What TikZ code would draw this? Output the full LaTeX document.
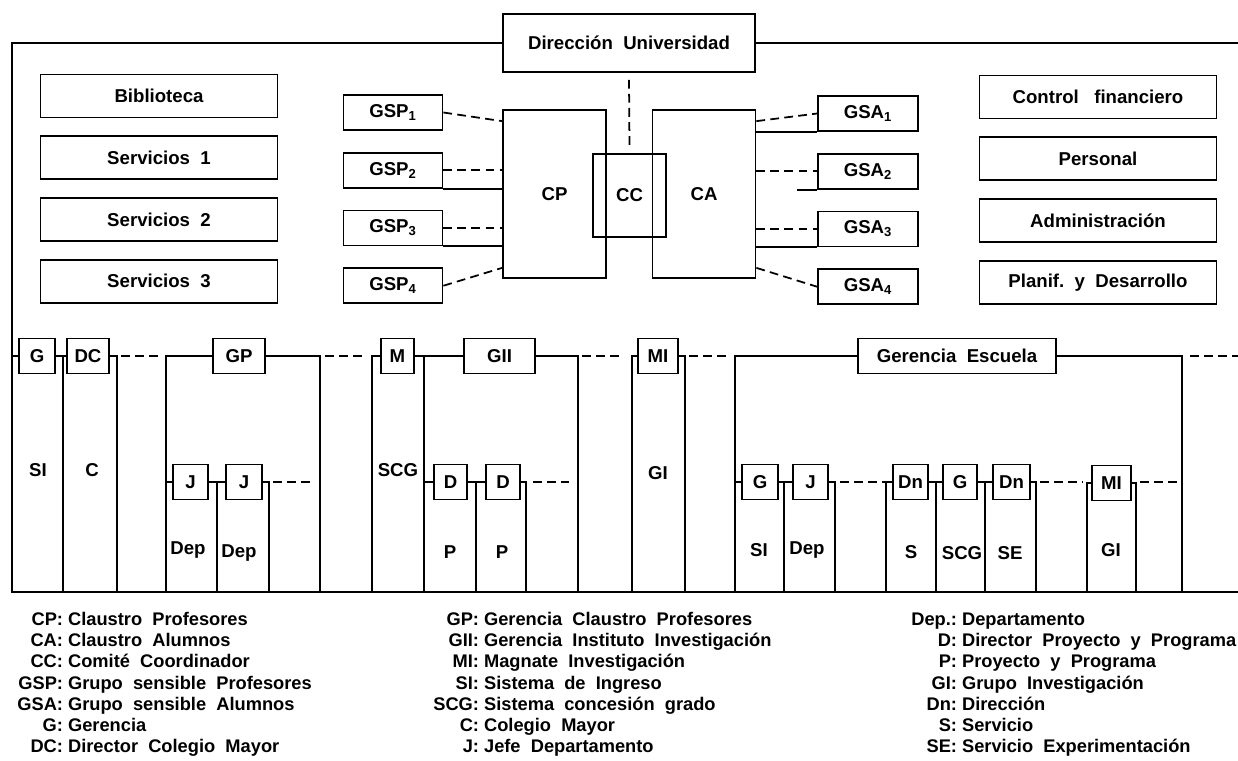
\documentclass[tikz,border=0pt]{standalone}
\usepackage{fontspec}
\setmainfont{Liberation Sans}
\usetikzlibrary{positioning}
\newcommand{\boxfont}{\fontsize{10.6pt}{12.7pt}\selectfont\bfseries}
\newcommand{\keyfont}{\fontsize{10.4pt}{12.1pt}\selectfont\bfseries}
\tikzset{
	unitbox/.style={rectangle, draw, line width=1pt, fill=white, inner sep=1pt, font=\boxfont},
	sidebox/.style={unitbox, minimum width=4.74cm, minimum height=0.86cm},
	gsbox/.style={unitbox, minimum width=1.98cm, minimum height=0.7cm},
	council/.style={rectangle, draw, line width=1pt, minimum width=2.06cm, minimum height=3.36cm, font=\boxfont},
	headbox/.style={unitbox, minimum width=0.7cm, minimum height=0.7cm},
	lane/.style={font=\boxfont, inner sep=0pt},
	legend/.style={font=\keyfont, inner sep=0pt, anchor=north west},
	link/.style={line width=1pt},
	dashlink/.style={line width=1pt, dash pattern=on 5pt off 3pt},
}
\begin{document}
\begin{tikzpicture}[x=0.02cm, y=-0.02cm]
		\useasboundingbox (0,0) rectangle (1238,761);
		% top: direction and councils
		\node[unitbox, minimum width=5.04cm, minimum height=1.16cm] (dir) at (629,43) {Dirección\ \ Universidad};
		\node[council] (cp) at (554.5,194) {CP};
		\node[council] (ca) at (704,194) {CA};
		\node[rectangle, draw, line width=1pt, minimum width=1.46cm, minimum height=1.66cm, font=\boxfont] (cc) at (629.5,195.5) {CC};
		\draw[link] (dir.west) -| (12,592) -- (1238,592);
		\draw[link] (dir.east) -- (1238,43);
		\draw[dashlink] ([yshift=-0.14cm]dir.south) -- ([yshift=0.12cm]cc.north);
		% service columns
		\node[sidebox] (bib) at (159,96) {Biblioteca};
		\node[sidebox, below=0.34cm of bib] (serv1) {Servicios\ \ 1};
		\node[sidebox, below=0.34cm of serv1] (serv2) {Servicios\ \ 2};
		\node[sidebox, below=0.34cm of serv2] (serv3) {Servicios\ \ 3};
		\node[sidebox] (ctrl) at (1098,97) {Control\ \ \ financiero};
		\node[sidebox, below=0.34cm of ctrl] (pers) {Personal};
		\node[sidebox, below=0.34cm of pers] (admin) {Administración};
		\node[sidebox, below=0.34cm of admin] (plan) {Planif.\ \ y\ \ Desarrollo};
		% sensitive groups
		\node[gsbox] (gsp1) at (393,112.5) {GSP\textsubscript{1}};
		\node[gsbox, below=0.42cm of gsp1] (gsp2) {GSP\textsubscript{2}};
		\node[gsbox, below=0.42cm of gsp2] (gsp3) {GSP\textsubscript{3}};
		\node[gsbox, below=0.42cm of gsp3] (gsp4) {GSP\textsubscript{4}};
		\node[gsbox, minimum width=2.0cm] (gsa1) at (868,113.5) {GSA\textsubscript{1}};
		\node[gsbox, minimum width=2.0cm, below=0.42cm of gsa1] (gsa2) {GSA\textsubscript{2}};
		\node[gsbox, minimum width=2.0cm, below=0.42cm of gsa2] (gsa3) {GSA\textsubscript{3}};
		\node[gsbox, minimum width=2.0cm, below=0.42cm of gsa3] (gsa4) {GSA\textsubscript{4}};
		\draw[dashlink] (gsp1.east) -- ([yshift=-0.24cm]cp.north west);
		\draw[dashlink] (gsp2.east) -- (gsp2.east -| cp.west);
		\draw[link] (gsp2.south east) -- (gsp2.south east -| cp.west);
		\draw[dashlink] (gsp3.east) -- (gsp3.east -| cp.west);
		\draw[link] (gsp3.south east) -- (gsp3.south east -| cp.west);
		\draw[dashlink] (gsp4.east) -- ([yshift=0.22cm]cp.south west);
		\draw[dashlink] ([yshift=-0.24cm]ca.north east) -- (gsa1.west);
		\draw[link] (gsa1.south west) -- (gsa1.south west -| ca.east);
		\draw[dashlink] (gsa2.west -| ca.east) -- (gsa2.west);
		\draw[link] (gsa2.south west) -- ++(-20,0);
		\draw[dashlink] (gsa3.west -| ca.east) -- (gsa3.west);
		\draw[link] (gsa3.south west) -- (gsa3.south west -| ca.east);
		\draw[dashlink] ([yshift=0.22cm]ca.south east) -- (gsa4.west);
		% units, first level
		\node[headbox, minimum width=0.72cm] (g) at (37,356) {G};
		\node[headbox, minimum width=0.84cm] (dc) at (88,356) {DC};
		\node[headbox, minimum width=1.04cm] (gp) at (239,356) {GP};
		\node[headbox, minimum width=0.66cm] (m) at (397.5,356) {M};
		\node[headbox, minimum width=1.42cm] (gii) at (499.5,356) {GII};
		\node[headbox, minimum width=0.8cm] (mi) at (658,356) {MI};
		\node[headbox, minimum width=3.96cm] (ge) at (957,356) {Gerencia\ \ Escuela};
		\draw[link] (g.west) -- ++(-6,0);
		\draw[link] (g.east) -| (63,592);
		\draw[link] (dc.west) -- (g.east);
		\draw[link] (dc.east) -| (117,592);
		\draw[link] (gp.west) -| (166,592);
		\draw[link] (gp.east) -| (320,592);
		\draw[link] (m.west) -| (372,592);
		\draw[link] (m.east) -| (424,592);
		\draw[link] (gii.west) -- (m.east);
		\draw[link] (gii.east) -| (578,592);
		\draw[link] (mi.west) -| (632,592);
		\draw[link] (mi.east) -| (685,592);
		\draw[link] (ge.west) -| (735,592);
		\draw[link] (ge.east) -| (1182,592);
		% units, second level
		\node[headbox] (j1) at (190.5,482) {J};
		\node[headbox, minimum width=0.72cm] (j2) at (244,482) {J};
		\node[headbox, minimum width=0.66cm] (d1) at (450.5,482) {D};
		\node[headbox, minimum width=0.68cm] (d2) at (503,482) {D};
		\node[headbox, minimum width=0.72cm] (sg) at (760,482) {G};
		\node[headbox] (sj) at (810.5,482) {J};
		\node[headbox] (dn1) at (910.5,482) {Dn};
		\node[headbox, minimum width=0.68cm] (sg2) at (960,482) {G};
		\node[headbox, minimum width=0.74cm] (dn2) at (1011.5,482) {Dn};
		\node[headbox, minimum width=0.78cm] (mi2) at (1111.5,483) {MI};
		\draw[link] (j1.west) -- ++(-7,0);
		\draw[link] (j1.east) -| (217,592);
		\draw[link] (j2.west) -- (j1.east);
		\draw[link] (j2.east) -| (269,592);
		\draw[link] (d1.west) -- ++(-10,0);
		\draw[link] (d1.east) -| (476,592);
		\draw[link] (d2.west) -- (d1.east);
		\draw[link] (d2.east) -| (526,592);
		\draw[link] (sg.west) -- ++(-7,0);
		\draw[link] (sg.east) -| (784,592);
		\draw[link] (sj.west) -- (sg.east);
		\draw[link] (sj.east) -| (835,592);
		\draw[link] (dn1.west) -| (886,592);
		\draw[link] (dn1.east) -| (936,592);
		\draw[link] (sg2.west) -- (dn1.east);
		\draw[link] (sg2.east) -| (985,592);
		\draw[link] (dn2.west) -- (sg2.east);
		\draw[link] (dn2.east) -| (1036,592);
		\draw[link] (mi2.west) -| (1087,592);
		\draw[link] (mi2.east) -| (1136,592);
		% continuation dashes
		\foreach \a/\b/\y in {121/160/356, 325/364/356, 582/624/356, 689/731/356, 1190/1238/356,
			273/313/482, 533/569/482, 840/885/482, 1040/1083/482, 1140/1177/482}
			\draw[dashlink] (\a,\y) -- (\b,\y);
		% lane labels
		\node[lane] (si1) at (38,470) {SI};
		\node[lane] (col) at (92,470) {C};
		\node[lane] (dep1) at (188,550) {Dep};
		\node[lane] (dep2) at (239,553) {Dep};
		\node[lane] (scg1) at (398,470) {SCG};
		\node[lane] (p1) at (450,552) {P};
		\node[lane] (p2) at (502,552) {P};
		\node[lane] (gi1) at (658,473) {GI};
		\node[lane] (si2) at (759,550) {SI};
		\node[lane] (dep3) at (807,550) {Dep};
		\node[lane] (srv) at (911,552) {S};
		\node[lane] (scg2) at (962,553) {SCG};
		\node[lane] (se) at (1010,553) {SE};
		\node[lane] (gi2) at (1111,550) {GI};
		% legend
		\node[legend] (key1) at (17,610) {\begin{tabular}{@{}r@{\ }l@{}}
			CP: & Claustro\ \ Profesores\\
			CA: & Claustro\ \ Alumnos\\
			CC: & Comité\ \ Coordinador\\
			GSP: & Grupo\ \ sensible\ \ Profesores\\
			GSA: & Grupo\ \ sensible\ \ Alumnos\\
			G: & Gerencia\\
			DC: & Director\ \ Colegio\ \ Mayor
		\end{tabular}};
		\node[legend] (key2) at (433,610) {\begin{tabular}{@{}r@{\ }l@{}}
			GP: & Gerencia\ \ Claustro\ \ Profesores\\
			GII: & Gerencia\ \ Instituto\ \ Investigación\\
			MI: & Magnate\ \ Investigación\\
			SI: & Sistema\ \ de\ \ Ingreso\\
			SCG: & Sistema\ \ concesión\ \ grado\\
			C: & Colegio\ \ Mayor\\
			J: & Jefe\ \ Departamento
		\end{tabular}};
		\node[legend] (key3) at (911,610) {\begin{tabular}{@{}r@{\ }l@{}}
			Dep.: & Departamento\\
			D: & Director\ \ Proyecto\ \ y\ \ Programa\\
			P: & Proyecto\ \ y\ \ Programa\\
			GI: & Grupo\ \ Investigación\\
			Dn: & Dirección\\
			S: & Servicio\\
			SE: & Servicio\ \ Experimentación
		\end{tabular}};
	\end{tikzpicture}
\end{document}
